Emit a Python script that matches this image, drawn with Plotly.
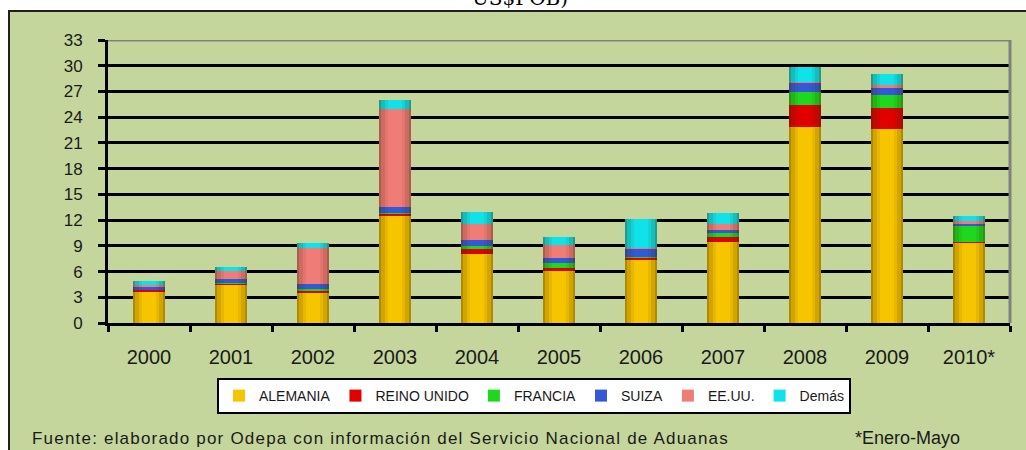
import plotly.graph_objects as go

years = ["2000", "2001", "2002", "2003", "2004", "2005", "2006", "2007", "2008", "2009", "2010*"]
alemania = [3.7, 4.4, 3.6, 12.5, 8.0, 6.1, 7.3, 9.5, 22.9, 22.6, 9.4]
reino_unido = [0.2, 0.25, 0.1, 0.3, 0.6, 0.3, 0.35, 0.55, 2.5, 2.45, 0.1]
francia = [0.05, 0.05, 0.3, 0.05, 0.4, 0.55, 0.05, 0.55, 1.55, 1.5, 1.9]
suiza = [0.2, 0.45, 0.6, 0.7, 0.65, 0.65, 0.95, 0.2, 1.05, 0.85, 0.2]
eeuu = [0.3, 0.9, 4.1, 11.4, 1.95, 1.5, 0.1, 0.8, 0.05, 0.35, 0.35]
demas = [0.5, 0.5, 0.6, 1.05, 1.35, 0.9, 3.4, 1.25, 1.75, 1.25, 0.5]

series_names = ["ALEMANIA", "REINO UNIDO", "FRANCIA", "SUIZA", "EE.UU.", "Demás"]
series_values = [alemania, reino_unido, francia, suiza, eeuu, demas]
series_colors = ["#F7C500", "#E00000", "#1ED81E", "#3558D8", "#F07C78", "#10E2EA"]

y_ticks = list(range(0, 34, 3))

totals = [sum(v) for v in zip(*series_values)]

BAR_W = 0.4
fig = go.Figure()
for name, vals, col in zip(series_names, series_values, series_colors):
    fig.add_trace(go.Bar(x=years, y=vals, name=name, width=BAR_W,
                         marker=dict(color=col, line=dict(width=0)),
                         hoverinfo="x+y+name"))

# cylinder-like shading strips (one per overlay axis so they don't stack)
strips = [(-0.20, 0.035, 0.38), (-0.165, 0.04, 0.2), (-0.125, 0.04, 0.08),
          (0.165, 0.035, 0.38), (0.125, 0.04, 0.2), (0.085, 0.04, 0.08)]
for i, (off, w, op) in enumerate(strips):
    ax = f"x{i + 2}"
    fig.add_trace(go.Bar(x=years, y=totals, xaxis=ax, yaxis="y", offset=off, width=w,
                         marker=dict(color=f"rgba(60,40,0,{op})", line=dict(width=0)),
                         showlegend=False, hoverinfo="skip"))
    fig.layout[f"xaxis{i + 2}"] = dict(overlaying="x", matches="x", visible=False,
                                       categoryorder="array", categoryarray=years)

W, H = 1026, 450
L, R, T, B = 108, 16, 40, 127
PW, PH = W - L - R, H - T - B


def px(xp):
    return (xp - L) / PW


def py(yp):
    return (H - B - yp) / PH


fig.update_layout(
    width=W, height=H,
    margin=dict(l=L, r=R, t=T, b=B, autoexpand=False),
    paper_bgcolor="white",
    plot_bgcolor="rgba(0,0,0,0)",
    barmode="stack",
    font=dict(family="Liberation Sans, Arial, sans-serif", color="#1a1a1a"),
    xaxis=dict(categoryorder="array", categoryarray=years, automargin=False,
               showline=True, linecolor="black", linewidth=3,
               ticks="outside", tickson="boundaries", ticklen=6, tickwidth=3, tickcolor="black",
               tickfont=dict(size=20), ticklabelstandoff=14, showgrid=False),
    yaxis=dict(range=[0, 33], tickvals=y_ticks, automargin=False,
               showline=True, linecolor="black", linewidth=3,
               ticks="outside", ticklen=7, tickwidth=3, tickcolor="black",
               tickfont=dict(size=17), ticklabelstandoff=12,
               showgrid=True, gridcolor="black", gridwidth=3, zeroline=False),
    legend=dict(orientation="h", xref="container", yref="container",
                x=534 / W, xanchor="center", y=1 - 378 / H, yanchor="top",
                bgcolor="white", bordercolor="black", borderwidth=2,
                font=dict(size=14), traceorder="normal", itemsizing="constant"),
    shapes=[
        dict(type="rect", xref="paper", yref="paper", x0=px(9), x1=px(1040), y0=py(11), y1=py(470),
             fillcolor="#C5D69C", line=dict(color="#202020", width=2), layer="below"),
        dict(type="line", xref="paper", yref="y", x0=0, x1=1, y0=33, y1=33,
             line=dict(color="#808080", width=3), layer="above"),
        dict(type="line", xref="paper", yref="paper", x0=1, x1=1, y0=0, y1=1,
             line=dict(color="#808080", width=3), layer="above"),
    ],
    annotations=[
        dict(text="US$FOB)", xref="paper", yref="paper", x=px(520), y=py(-2),
             xanchor="center", yanchor="middle", showarrow=False,
             font=dict(family="DejaVu Serif, serif", size=20, color="black")),
        dict(text='<span style="letter-spacing:1.2px">Fuente: elaborado por Odepa con información del Servicio Nacional de Aduanas</span>',
             xref="paper", yref="paper", x=px(30), y=py(438), xanchor="left", yanchor="middle",
             showarrow=False, font=dict(size=17)),
        dict(text="*Enero-Mayo", xref="paper", yref="paper", x=px(853), y=py(438),
             xanchor="left", yanchor="middle", showarrow=False, font=dict(size=18)),
    ],
)

fig.write_html("out.html", config={"displayModeBar": False},
               post_script="document.body.style.margin='0';")
